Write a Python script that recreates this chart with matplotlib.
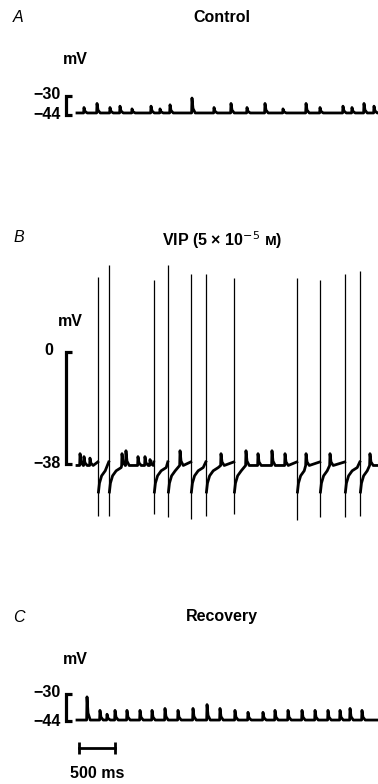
import numpy as np
import matplotlib.pyplot as plt

plt.rcParams['font.family'] = ['Liberation Sans', 'DejaVu Sans']

W, H = 378, 784

# ---- A: control (small depolarising events, no spikes)
a_rest = -42.5
a_evt_ms = [97, 278, 458, 597, 764, 1028, 1153, 1292, 1597, 1903, 2139,
            2361, 2611, 2861, 3181, 3375, 3694, 3819, 3986, 4125]
a_evt_mv = [4, 7, 4, 5, 3, 5, 3, 6, 11, 4, 7, 4, 7, 3, 7, 4, 5, 4, 7, 5]

# ---- B: VIP (5 x 10^-5 M), repetitive firing
b_rest = -38.5
b_spk_ms = [292, 444, 1069, 1264, 1583, 1792, 2181, 3056, 3375, 3722, 3931]
b_spk_peak = [25.5, 29.5, 24.5, 29.5, 26.5, 26.5, 25.0, 25.0, 24.5, 26.5, 27.5]
b_spk_trough = [-55.5, -55.5, -55, -56, -56.5, -55.5, -55, -57, -56, -56, -55.5]
b_evt_ms = [42, 97, 180, 625, 680, 847, 944, 1014, 1431, 2000, 2347, 2514,
            2708, 2889, 3181, 3514, 4069]
b_evt_mv = [4, 3, 2.5, 4, 5, 3, 3, 2, 5, 4, 5, 4, 5, 4, 4, 4, 4]

# ---- C: recovery
c_rest = -43.5
c_evt_ms = [139, 319, 417, 528, 694, 875, 1042, 1222, 1403, 1611, 1806, 1986,
            2194, 2375, 2583, 2750, 2931, 3125, 3306, 3486, 3653, 3792, 3958]
c_evt_mv = [12, 5, 3, 5, 5, 5, 5, 6, 5, 6, 8, 6, 5, 4, 4, 5, 5, 5, 5, 5, 5, 6, 5]

t_end = 4180
scale_ms = 500

# shapes: small event and after-hyperpolarisation
epsp_dt = [-5, 0, 14, 45]
epsp_frac = [0, 1, 0.3, 0]
ahp_dt = [6, 20, 50, 100, 170, 260]
ahp_dv = [-9, -6, -3.5, -1.8, -0.7, 0]


def build_trace(rest, evt_ms, evt_mv, spk_ms=()):
    events = [(t, 'e', a) for t, a in zip(evt_ms, evt_mv)]
    events += [(t, 's', 0) for t in spk_ms]
    events.sort()
    ts, vs = [0.0], [rest]
    for i, (t, kind, a) in enumerate(events):
        nxt = events[i + 1][0] if i + 1 < len(events) else t_end
        if kind == 'e':
            for dt, f in zip(epsp_dt, epsp_frac):
                tt = t + dt
                if tt > ts[-1] and (dt <= 0 or tt < nxt - 6):
                    ts.append(tt)
                    vs.append(rest + f * a)
        else:
            ts += [t - 3, np.nan]
            vs += [rest + 1.2, np.nan]
            for dt, dv in zip(ahp_dt, ahp_dv):
                if t + dt < nxt - 6:
                    ts.append(t + dt)
                    vs.append(rest + dv)
    ts.append(t_end)
    vs.append(rest)
    return np.array(ts), np.array(vs)


fig = plt.figure(figsize=(W / 100, H / 100), dpi=100)

T0 = -77 / 0.072
T1 = T0 + W / 0.072
BR_X = -150   # bracket spine (ms)
BR_R = -75
FS = 11.5
TRACE_LW = 2.0


def panel(top, bottom, v_ref, y_ref, px_mv):
    ax = fig.add_axes([0, 1 - bottom / H, 1, (bottom - top) / H])
    ax.set_xlim(T0, T1)
    ax.set_ylim(v_ref - (bottom - y_ref) / px_mv, v_ref + (y_ref - top) / px_mv)
    ax.axis('off')
    return ax


def bracket(ax, v_hi, v_lo, lab_hi, lab_lo, off_hi=-4, off_lo=-4):
    ax.plot([BR_R, BR_X, BR_X, BR_R], [v_hi, v_hi, v_lo, v_lo], color='k',
            lw=2.3, solid_joinstyle='miter', solid_capstyle='butt')
    ax.annotate(lab_hi, (BR_X, v_hi), xytext=(off_hi, 1), textcoords='offset points',
                ha='right', va='center', fontsize=FS, fontweight='bold')
    ax.annotate(lab_lo, (BR_X, v_lo), xytext=(off_lo, 0), textcoords='offset points',
                ha='right', va='center', fontsize=FS, fontweight='bold')


def ftext(x, y, s, **kw):
    kw.setdefault('fontweight', 'bold')
    fig.text(x / W, 1 - y / H, s, va='center', fontsize=FS, **kw)


# A
axA = panel(30, 160, -44, 115, 19 / 14)
t, v = build_trace(a_rest, a_evt_ms, a_evt_mv)
axA.plot(t, v, color='k', lw=TRACE_LW, solid_joinstyle='round')
bracket(axA, -30, -44, '\u221230', '\u221244')
ftext(13, 17, 'A', style='italic', ha='left', fontweight='normal')
ftext(222, 17, 'Control', ha='center')
ftext(75, 60, 'mV', ha='center')

# B
axB = panel(245, 560, -38, 464, 112 / 38)
t, v = build_trace(b_rest, b_evt_ms, b_evt_mv, b_spk_ms)
axB.plot(t, v, color='k', lw=TRACE_LW, solid_joinstyle='round')
axB.vlines(b_spk_ms, b_spk_trough, b_spk_peak, color='k', lw=0.9)
bracket(axB, 0, -38, '0', '\u221238', off_hi=-9)
ftext(13, 238, 'B', style='italic', ha='left', fontweight='normal')
ftext(222, 240, 'VIP (5 \u00d7 10$^{-5}$ \u1d0d)', ha='center')
ftext(70, 322, 'mV', ha='center')

# C
axC = panel(640, 784, -44, 721, 27 / 14)
t, v = build_trace(c_rest, c_evt_ms, c_evt_mv)
axC.plot(t, v, color='k', lw=TRACE_LW, solid_joinstyle='round')
bracket(axC, -30, -44, '\u221230', '\u221244')
ftext(13, 617, 'C', style='italic', ha='left', fontweight='normal')
ftext(222, 617, 'Recovery', ha='center')
ftext(75, 660, 'mV', ha='center')

# time calibration
bar_y = -44 - 27 / (27 / 14)
tick = 3.2
axC.plot([30, 30 + scale_ms], [bar_y, bar_y], color='k', lw=2.0)
axC.vlines([30, 30 + scale_ms], bar_y - tick, bar_y + tick, color='k', lw=2.0)
axC.annotate(f'{scale_ms} ms', (30 + scale_ms / 2, bar_y), xytext=(0, -18),
             textcoords='offset points', ha='center', va='center',
             fontsize=FS, fontweight='bold')

fig.savefig('out.png', dpi=100)
